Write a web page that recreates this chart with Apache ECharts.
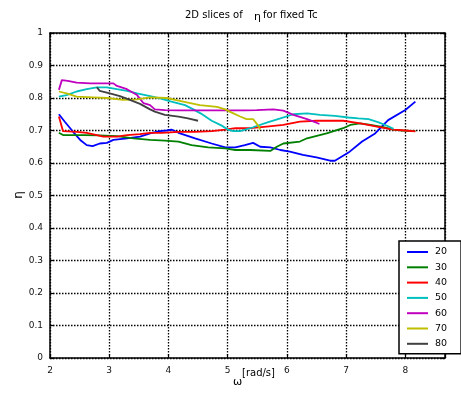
<!DOCTYPE html>
<html>
<head>
<meta charset="utf-8">
<script src="https://cdn.jsdelivr.net/npm/echarts@6/dist/echarts.min.js"></script>
<style>html,body{margin:0;padding:0;background:#fff;}#c{width:461px;height:394px;}</style>
</head>
<body>
<div id="c"></div>
<script>
// ---- data (omega [rad/s], eta) ----
const names = ['20', '30', '40', '50', '60', '70', '80'];
const colors = ['#0000ff', '#008000', '#ff0000', '#00bfbf', '#bf00bf', '#bfbf00', '#404040'];

const w20 = [2.15, 2.25, 2.39, 2.51, 2.62, 2.72, 2.84, 2.96, 3.07, 3.3, 3.52, 3.69, 3.85, 3.97, 4.05, 4.17, 4.45, 4.73, 4.96, 5.13, 5.29, 5.43, 5.55, 5.72, 5.89, 6.05, 6.27, 6.5, 6.73, 6.81, 7.04, 7.27, 7.49, 7.71, 8.0, 8.17];
const e20 = [0.75, 0.727, 0.696, 0.671, 0.655, 0.652, 0.66, 0.662, 0.671, 0.676, 0.681, 0.691, 0.698, 0.70, 0.703, 0.693, 0.676, 0.66, 0.648, 0.648, 0.655, 0.662, 0.65, 0.648, 0.64, 0.635, 0.625, 0.617, 0.607, 0.607, 0.632, 0.666, 0.691, 0.732, 0.763, 0.789];

const w30 = [2.15, 2.22, 2.56, 2.84, 3.13, 3.41, 3.69, 3.94, 4.17, 4.39, 4.67, 4.96, 5.13, 5.38, 5.72, 5.83, 5.94, 6.22, 6.34, 6.67, 6.95, 7.07, 7.24, 7.41, 7.63, 7.8, 7.94, 8.17];
const e30 = [0.693, 0.686, 0.686, 0.685, 0.683, 0.676, 0.671, 0.669, 0.666, 0.655, 0.648, 0.645, 0.64, 0.64, 0.637, 0.65, 0.66, 0.666, 0.676, 0.691, 0.707, 0.717, 0.722, 0.717, 0.71, 0.703, 0.70, 0.698];

const w40 = [2.15, 2.22, 2.45, 2.62, 2.79, 2.9, 3.13, 3.3, 3.52, 3.69, 3.89, 4.17, 4.45, 4.73, 4.96, 5.13, 5.38, 5.66, 5.94, 6.22, 6.5, 6.95, 7.24, 7.52, 7.8, 8.0, 8.17];
const e40 = [0.743, 0.698, 0.696, 0.693, 0.686, 0.681, 0.681, 0.686, 0.689, 0.693, 0.693, 0.696, 0.696, 0.698, 0.703, 0.707, 0.707, 0.712, 0.717, 0.727, 0.73, 0.73, 0.722, 0.712, 0.703, 0.70, 0.697];

const w50 = [2.15, 2.28, 2.45, 2.62, 2.79, 2.96, 3.13, 3.3, 3.47, 3.69, 3.86, 4.05, 4.28, 4.42, 4.55, 4.73, 4.9, 5.0, 5.1, 5.21, 5.43, 5.66, 5.89, 6.11, 6.34, 6.56, 6.81, 7.04, 7.21, 7.38, 7.55, 7.71, 7.8];
const e50 = [0.804, 0.809, 0.82, 0.827, 0.833, 0.833, 0.827, 0.822, 0.814, 0.806, 0.799, 0.789, 0.778, 0.765, 0.752, 0.73, 0.715, 0.703, 0.698, 0.698, 0.71, 0.724, 0.737, 0.75, 0.753, 0.748, 0.745, 0.74, 0.737, 0.735, 0.725, 0.713, 0.705];

const w60 = [2.15, 2.2, 2.3, 2.45, 2.68, 3.07, 3.13, 3.3, 3.47, 3.58, 3.69, 3.77, 3.94, 4.17, 5.29, 5.49, 5.77, 5.94, 6.11, 6.34, 6.5, 6.55];
const e60 = [0.825, 0.855, 0.853, 0.847, 0.845, 0.845, 0.837, 0.827, 0.809, 0.784, 0.778, 0.765, 0.763, 0.762, 0.762, 0.763, 0.765, 0.761, 0.748, 0.735, 0.724, 0.72];

const w70 = [2.15, 2.28, 2.45, 2.73, 2.96, 3.24, 3.47, 3.69, 3.97, 4.25, 4.53, 4.82, 4.96, 5.07, 5.21, 5.32, 5.43, 5.52, 5.55];
const e70 = [0.82, 0.814, 0.804, 0.802, 0.80, 0.794, 0.796, 0.802, 0.80, 0.789, 0.778, 0.773, 0.765, 0.755, 0.743, 0.735, 0.735, 0.714, 0.703];

const w80 = [2.79, 2.84, 3.01, 3.18, 3.35, 3.52, 3.69, 3.77, 3.94, 4.17, 4.33, 4.5];
const e80 = [0.833, 0.822, 0.814, 0.806, 0.794, 0.782, 0.765, 0.758, 0.748, 0.743, 0.737, 0.73];

const xTicks = [2, 3, 4, 5, 6, 7, 8];
const yTicks = [0, 0.1, 0.2, 0.3, 0.4, 0.5, 0.6, 0.7, 0.8, 0.9, 1];

const seriesW = [w20, w30, w40, w50, w60, w70, w80];
const seriesE = [e20, e30, e40, e50, e60, e70, e80];

const FONT = 'DejaVu Sans';
const chart = echarts.init(document.getElementById('c'), null, {renderer: 'canvas'});

const dotted = {color: '#000', type: [1.5, 1.5], width: 1.3};
const axLine = {show: true, onZero: false, lineStyle: {color: '#000', width: 1.5}};
const tick = {show: true, inside: true, length: 4, lineStyle: {color: '#000', width: 1.2}};

const option = {
  animation: false,
  backgroundColor: '#fff',
  grid: {left: 50, right: 16, top: 33, bottom: 36, containLabel: false},
  xAxis: [
    {type: 'value', min: 2, max: 8.67, interval: 1, position: 'bottom',
     axisLine: axLine, axisTick: tick,
     axisLabel: {fontFamily: FONT, fontSize: 9, color: '#111', margin: 8,
       formatter: v => xTicks.indexOf(Math.round(v * 1000) / 1000) >= 0 ? String(Math.round(v)) : ''},
     splitLine: {show: true, lineStyle: dotted}},
    {type: 'value', min: 2, max: 8.67, interval: 1, position: 'top',
     axisLine: axLine, axisTick: tick, axisLabel: {show: false}, splitLine: {show: false}}
  ],
  yAxis: [
    {type: 'value', min: 0, max: 1, interval: 0.1, position: 'left',
     axisLine: axLine, axisTick: tick,
     axisLabel: {fontFamily: FONT, fontSize: 9, color: '#111', margin: 7,
       formatter: v => { const r = Math.round(v * 10) / 10; return yTicks.indexOf(r) >= 0 ? String(r) : ''; }},
     splitLine: {show: true, lineStyle: dotted}},
    {type: 'value', min: 0, max: 1, interval: 0.1, position: 'right',
     axisLine: axLine, axisTick: tick, axisLabel: {show: false}, splitLine: {show: false}}
  ],
  legend: {
    data: names, orient: 'vertical', left: 399, top: 241,
    icon: 'rect', itemWidth: 21, itemHeight: 2, itemGap: 3.3,
    padding: [5, 14, 4, 8],
    borderColor: '#000', borderWidth: 1.5, backgroundColor: '#fff',
    textStyle: {fontFamily: FONT, fontSize: 9.5, color: '#000', lineHeight: 12, padding: [0, 0, 0, 2]}
  },
  series: names.map((n, i) => ({
    name: n, type: 'line', xAxisIndex: 0, yAxisIndex: 0,
    showSymbol: false, symbol: 'none', color: colors[i],
    lineStyle: {color: colors[i], width: 1.8},
    data: seriesW[i].map((w, j) => [w, seriesE[i][j]])
  })),
  graphic: [
    {type: 'text', left: 185, top: 10, style: {text: '2D slices of', font: '10px "DejaVu Sans"', fill: '#000'}},
    {type: 'text', left: 254, top: 12, style: {text: 'η', font: '11px "DejaVu Sans"', fill: '#000'}},
    {type: 'text', left: 263, top: 10, style: {text: 'for fixed Tc', font: '10px "DejaVu Sans"', fill: '#000'}},
    {type: 'text', left: 233, top: 377, style: {text: 'ω', font: '11px "DejaVu Sans"', fill: '#000'}},
    {type: 'text', left: 242, top: 368, style: {text: '[rad/s]', font: '10px "DejaVu Sans"', fill: '#000'}},
    {type: 'text', x: 19, y: 195, rotation: Math.PI / 2,
     style: {text: 'η', font: '12px "DejaVu Sans"', fill: '#000', align: 'center', verticalAlign: 'middle'}}
  ]
};
chart.setOption(option);
</script>
</body>
</html>
